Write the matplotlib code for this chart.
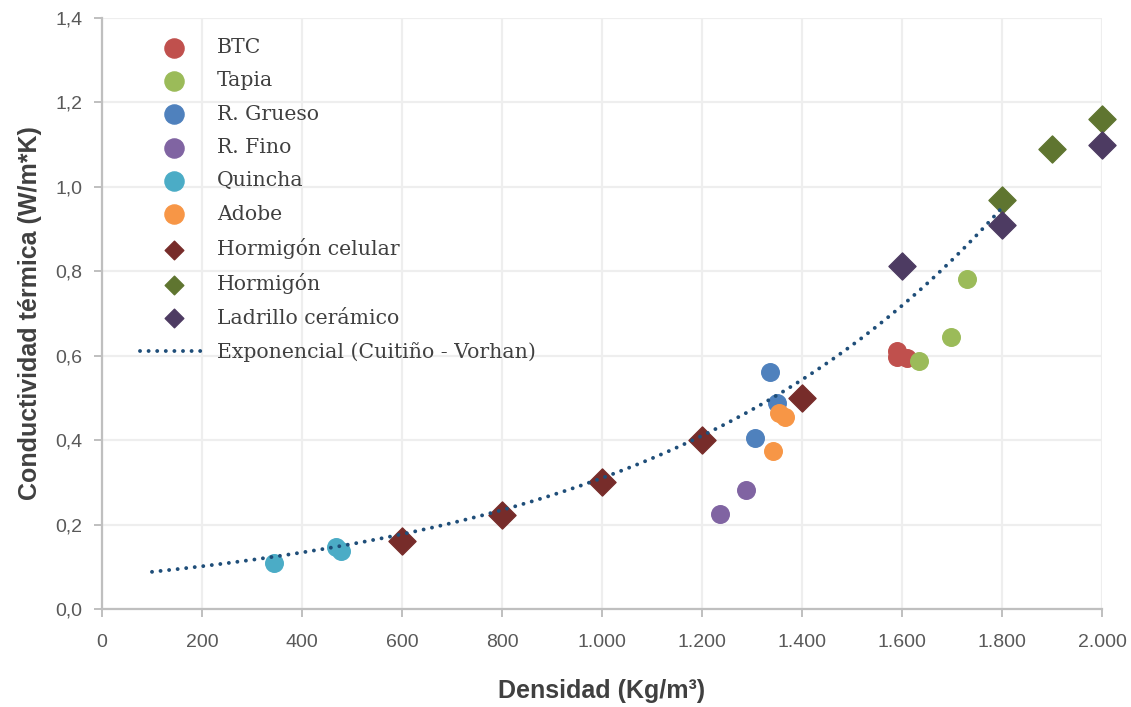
import numpy as np
import matplotlib
matplotlib.use("Agg")
import matplotlib.pyplot as plt

# data (densidad kg/m3, conductividad W/m*K)
btc_x = [1590, 1590, 1610]
btc_y = [0.612, 0.598, 0.594]
tapia_x = [1634, 1698, 1730]
tapia_y = [0.588, 0.645, 0.782]
grueso_x = [1336, 1349, 1305]
grueso_y = [0.562, 0.489, 0.406]
fino_x = [1287, 1235]
fino_y = [0.282, 0.224]
quincha_x = [343, 468, 478]
quincha_y = [0.108, 0.148, 0.137]
adobe_x = [1354, 1365, 1341]
adobe_y = [0.464, 0.454, 0.374]
celular_x = [600, 800, 1000, 1200, 1400]
celular_y = [0.160, 0.222, 0.302, 0.400, 0.500]
hormigon_x = [1800, 1900, 2000]
hormigon_y = [0.970, 1.090, 1.160]
ladrillo_x = [1600, 1800, 2000]
ladrillo_y = [0.812, 0.910, 1.100]

# exponential trend (Cuitiño - Vorhan): y = a * exp(b * x)
trend_a = 0.0765
trend_b = 0.0014
trend_x = np.linspace(100, 1800, 200)
trend_y = trend_a * np.exp(trend_b * trend_x)

sans = ['Liberation Sans Narrow', 'Liberation Sans', 'DejaVu Sans']
serif = ['DejaVu Serif']

fig = plt.figure(figsize=(11.31, 7.07), dpi=100)
ax = fig.add_axes([102 / 1131, 1 - 609 / 707, 1000 / 1131, 591 / 707])

circ = 160
diam = 190
ax.scatter(btc_x, btc_y, s=circ, color='#c0504d', label='BTC', zorder=3, clip_on=False)
ax.scatter(tapia_x, tapia_y, s=circ, color='#9bbb59', label='Tapia', zorder=3, clip_on=False)
ax.scatter(grueso_x, grueso_y, s=circ, color='#4f81bd', label='R. Grueso', zorder=3, clip_on=False)
ax.scatter(fino_x, fino_y, s=circ, color='#8064a2', label='R. Fino', zorder=3, clip_on=False)
ax.scatter(quincha_x, quincha_y, s=circ, color='#4bacc6', label='Quincha', zorder=3, clip_on=False)
ax.scatter(adobe_x, adobe_y, s=circ, color='#f79646', label='Adobe', zorder=3, clip_on=False)
ax.scatter(celular_x, celular_y, s=diam, marker='D', color='#772c2a', label='Hormigón celular',
           zorder=3, clip_on=False)
ax.scatter(hormigon_x, hormigon_y, s=diam, marker='D', color='#5f7530', label='Hormigón',
           zorder=3, clip_on=False)
ax.scatter(ladrillo_x, ladrillo_y, s=diam, marker='D', color='#4d3b62', label='Ladrillo cerámico',
           zorder=3, clip_on=False)
ax.plot(trend_x, trend_y, linestyle=(0, (0.01, 2.2)), linewidth=2.8, color='#1f4e79',
        dash_capstyle='round', label='Exponencial (Cuitiño - Vorhan)', zorder=4)

ax.set_xlim(0, 2000)
ax.set_ylim(0, 1.4)
ax.set_xticks(np.arange(0, 2001, 200))
ax.set_yticks(np.arange(0, 1.41, 0.2))
ax.set_xticklabels(['0', '200', '400', '600', '800', '1.000', '1.200', '1.400', '1.600', '1.800', '2.000'])
ax.set_yticklabels(['0,0', '0,2', '0,4', '0,6', '0,8', '1,0', '1,2', '1,4'])
for lab in ax.get_xticklabels() + ax.get_yticklabels():
    lab.set_family(sans)
    lab.set_fontsize(14)
    lab.set_color('#595959')

ax.grid(True, color='#eeeeee', linewidth=1.6, zorder=0)
ax.set_axisbelow(True)
for side in ['top', 'right']:
    ax.spines[side].set_visible(False)
for side in ['left', 'bottom']:
    ax.spines[side].set_color('#bfbfbf')
    ax.spines[side].set_linewidth(1.6)
ax.tick_params(axis='both', color='#bfbfbf', width=1.4, length=6)
ax.tick_params(axis='x', pad=12)
ax.tick_params(axis='y', pad=8)

ax.set_xlabel('Densidad (Kg/m³)', family=sans, fontsize=18, fontweight='bold',
              color='#404040', labelpad=20)
ax.set_ylabel('Conductividad térmica (W/m*K)', family=sans, fontsize=18, fontweight='bold',
              color='#404040', labelpad=10)

leg = ax.legend(loc='upper left', bbox_to_anchor=(0.024, 0.99), frameon=False,
                prop={'family': serif, 'size': 14.7}, labelcolor='#404040',
                handlelength=3.3, handletextpad=0.44, labelspacing=0.7, borderaxespad=0.3)
for h in leg.legend_handles[0:6]:
    h.set_sizes([190])
for h in leg.legend_handles[6:9]:
    h.set_sizes([90])

fig.savefig('out.png', dpi=100)
